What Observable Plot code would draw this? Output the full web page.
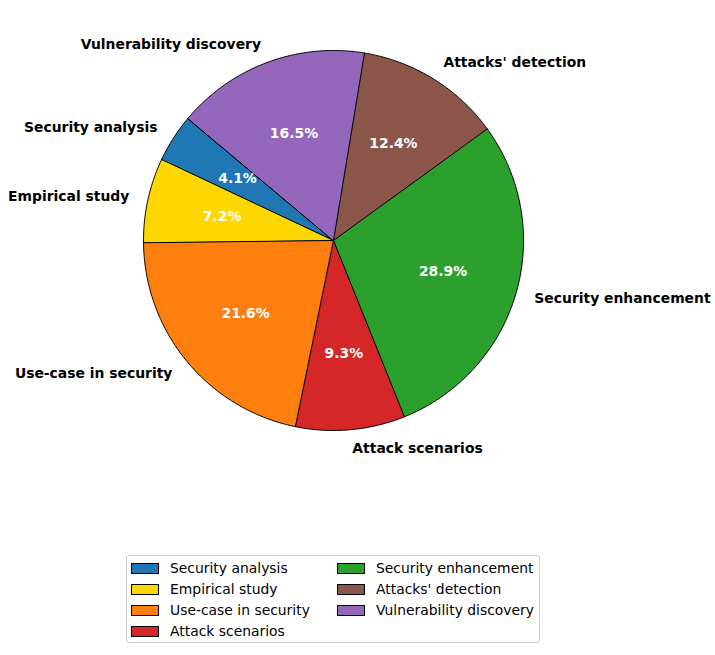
<!DOCTYPE html>
<html>
<head>
<meta charset="utf-8">
<script src="https://cdn.jsdelivr.net/npm/d3@7"></script>
<script src="https://cdn.jsdelivr.net/npm/@observablehq/plot@0.6"></script>
<style>
  html, body { margin: 0; padding: 0; background: #fff; }
  #wrap { position: relative; width: 715px; height: 655px; font-family: "DejaVu Sans", sans-serif; }
  #legend { position: absolute; left: 126px; top: 555px; width: 412px; height: 86px;
            border: 1px solid #cccccc; border-radius: 3px; background: #fff; box-sizing: content-box; }
  .item { position: absolute; display: flex; align-items: center; font-size: 13.9px; color: #000; white-space: nowrap; }
  .sw { width: 26px; height: 9px; border: 1px solid #000; margin-right: 11px; }
</style>
</head>
<body>
<div id="wrap"></div>
<script>
// ---- data ----
const labels = ["Security analysis", "Empirical study", "Use-case in security", "Attack scenarios",
                "Security enhancement", "Attacks' detection", "Vulnerability discovery"];
const values = [4.1, 7.2, 21.6, 9.3, 28.9, 12.4, 16.5];
const colors = ["#1f77b4", "#ffd700", "#ff7f0e", "#d62728", "#2ca02c", "#8c564b", "#9467bd"];
const startAngle = 140; // degrees, counter-clockwise from +x

// ---- layout ----
const W = 715, H = 655, cx = 333, cy = 240, R = 190;
const total = d3.sum(values);

const slices = [];
let acc = startAngle;
values.forEach((v, i) => {
  const a0 = acc, a1 = acc + 360 * v / total;
  acc = a1;
  slices.push({label: labels[i], value: v, a0, a1, mid: (a0 + a1) / 2});
});

const pts = [];
slices.forEach(s => {
  pts.push({label: s.label, x: 0, y: 0});
  const n = Math.max(2, Math.ceil((s.a1 - s.a0) / 0.5));
  for (let k = 0; k <= n; k++) {
    const a = (s.a0 + (s.a1 - s.a0) * k / n) * Math.PI / 180;
    pts.push({label: s.label, x: Math.cos(a), y: Math.sin(a)});
  }
});

const outer = slices.map(s => {
  const a = s.mid * Math.PI / 180;
  return {label: s.label, x: 1.1 * Math.cos(a), y: 1.1 * Math.sin(a)};
});
const inner = slices.map(s => {
  const a = s.mid * Math.PI / 180;
  return {text: s.value.toFixed(1) + "%", x: 0.6 * Math.cos(a), y: 0.6 * Math.sin(a)};
});

const chart = Plot.plot({
  width: W, height: H, margin: 0,
  style: {fontFamily: "DejaVu Sans, sans-serif", background: "transparent"},
  x: {domain: [-cx / R, (W - cx) / R], axis: null},
  y: {domain: [-(H - cy) / R, cy / R], axis: null},
  color: {domain: labels, range: colors},
  marks: [
    Plot.line(pts, {x: "x", y: "y", z: "label", fill: "label", stroke: "black", strokeWidth: 1,
                    curve: "linear-closed", strokeLinejoin: "round"}),
    Plot.text(outer.filter(d => d.x >= 0), {x: "x", y: "y", text: "label", textAnchor: "start",
              fontSize: 13.9, fontWeight: "bold", fill: "black"}),
    Plot.text(outer.filter(d => d.x < 0), {x: "x", y: "y", text: "label", textAnchor: "end",
              fontSize: 13.9, fontWeight: "bold", fill: "black"}),
    Plot.text(inner, {x: "x", y: "y", text: "text", fontSize: 13.9, fontWeight: "bold", fill: "white"})
  ]
});

const wrap = document.getElementById("wrap");
wrap.appendChild(chart);

// legend (HTML), column-major, 4 rows
const legend = document.createElement("div");
legend.id = "legend";
const colX = [4, 210];
const rowY0 = 12, rowStep = 21;
labels.forEach((lab, i) => {
  const col = Math.floor(i / 4), row = i % 4;
  const it = document.createElement("div");
  it.className = "item";
  it.style.left = colX[col] + "px";
  it.style.top = (rowY0 + row * rowStep - 9) + "px";
  it.style.height = "18px";
  const sw = document.createElement("div");
  sw.className = "sw";
  sw.style.background = colors[i];
  const tx = document.createElement("span");
  tx.textContent = lab;
  it.appendChild(sw);
  it.appendChild(tx);
  legend.appendChild(it);
});
wrap.appendChild(legend);
chart.style.position = "absolute";
chart.style.left = "0";
chart.style.top = "0";
</script>
</body>
</html>
